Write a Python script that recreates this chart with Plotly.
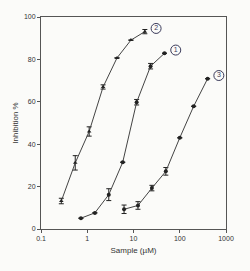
import plotly.graph_objects as go

# Series data
x2 = [0.275, 0.55, 1.1, 2.2, 4.4, 8.8, 17.6]
y2 = [13.2, 31.2, 46.0, 67.0, 80.7, 89.1, 93.1]
e2 = [1.3, 3.4, 2.2, 1.0, 0, 0, 1.0]

x1 = [0.73, 1.46, 2.92, 5.85, 11.7, 23.4, 46.8]
y1 = [5.1, 7.6, 16.2, 31.5, 59.8, 76.8, 82.9]
e1 = [0, 0, 2.8, 0, 1.3, 1.3, 0]

x3 = [6.25, 12.5, 25, 50, 100, 200, 400]
y3 = [9.3, 11.1, 19.3, 27.2, 43.0, 57.9, 70.9]
e3 = [2.0, 1.8, 1.3, 1.8, 0, 0, 0]

labels = ["2", "1", "3"]

line_col = "#444444"
mark_col = "#222222"
font_fam = "Liberation Sans, Arial"

fig = go.Figure()
for xs, ys, es, sym in [(x2, y2, e2, "triangle-up"), (x1, y1, e1, "circle"), (x3, y3, e3, "circle")]:
    fig.add_trace(go.Scatter(
        x=xs, y=ys, mode="lines+markers",
        line=dict(color=line_col, width=1),
        marker=dict(symbol=sym, size=4, color=mark_col),
        error_y=dict(type="data", array=es, color=mark_col, thickness=1, width=2.5),
        showlegend=False, cliponaxis=False,
    ))

# circled labels next to the end of each curve (placed relative to the last point)
lab_x = [s[-1] * 1.75 for s in (x2, x1, x3)]
lab_y = [s[-1] + 1.5 for s in (y2, y1, y3)]
fig.add_trace(go.Scatter(
    x=lab_x, y=lab_y, mode="markers+text", text=labels,
    textposition="middle center",
    textfont=dict(family=font_fam, size=7, color="#3a3a5a"),
    marker=dict(symbol="circle-open", size=10, color="#3a3a5a", line=dict(width=1)),
    showlegend=False, cliponaxis=False, hoverinfo="skip",
))

axis_common = dict(
    showgrid=False, zeroline=False, showline=True, linecolor="#555555", linewidth=1,
    mirror=True, ticks="outside", ticklen=3, tickcolor="#555555", tickwidth=1,
    tickfont=dict(family=font_fam, size=7, color="#333333"),
)

fig.update_xaxes(type="log", range=[-1, 3], tickvals=[0.1, 1, 10, 100, 1000],
                 ticktext=["0.1", "1", "10", "100", "1000"],
                 title=dict(text="Sample (µM)", font=dict(family=font_fam, size=8, color="#333333"), standoff=5),
                 **axis_common)
fig.update_yaxes(range=[0, 100], tickvals=[0, 20, 40, 60, 80, 100],
                 title=dict(text="Inhibition %", font=dict(family=font_fam, size=8, color="#333333"), standoff=4),
                 **axis_common)

fig.update_layout(
    width=250, height=271,
    margin=dict(l=41, r=24, t=17, b=42),
    paper_bgcolor="#fbfbf9", plot_bgcolor="#fbfbf9",
)

fig.write_html("out.html")
